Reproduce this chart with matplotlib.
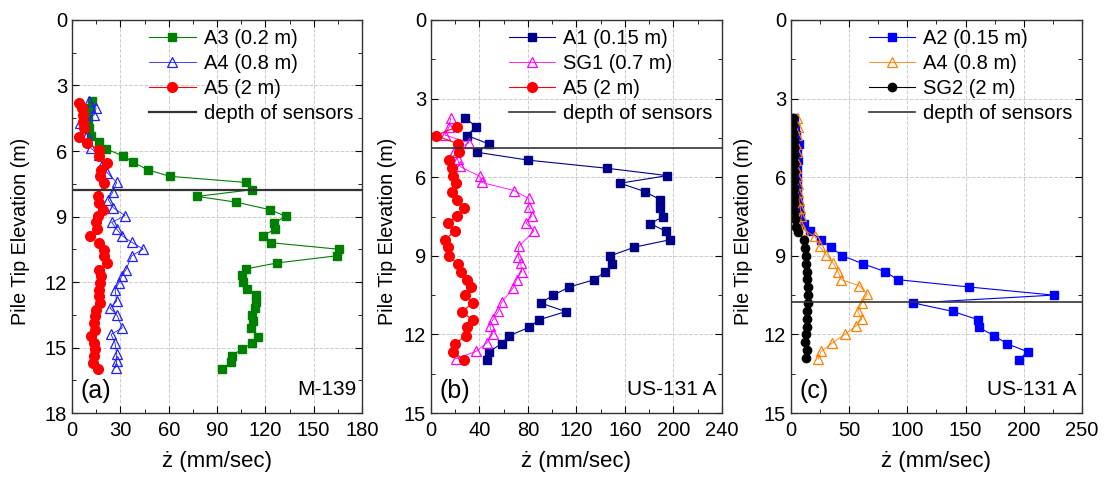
import matplotlib.pyplot as plt
from matplotlib.ticker import MultipleLocator

plt.rcParams['font.family'] = ['Liberation Sans', 'DejaVu Sans']

# ---- panel (a) M-139 ----
a_A3_z = [3.73, 4.04, 4.35, 4.65, 4.95, 5.3, 5.6, 5.9, 6.22, 6.52, 6.86, 7.16, 7.44, 7.77,
          8.08, 8.34, 8.69, 8.99, 9.3, 9.57, 9.9, 10.2, 10.5, 10.8, 11.13, 11.4, 11.7, 12.0,
          12.3, 12.6, 12.9, 13.2, 13.5, 13.8, 14.1, 14.5, 14.8, 15.06, 15.37, 15.67, 16.0]
a_A3_v = [12.2, 11, 10, 10, 10.5, 11.6, 17, 21, 31.4, 38, 47, 60.7, 108, 112,
          77.7, 101.6, 123, 132.6, 125.6, 126, 118.4, 123.5, 165.7, 164.3, 127, 108, 105.6, 106.4,
          108.5, 114, 114.5, 113.6, 111.6, 112.4, 111.4, 115.5, 111.8, 105.6, 99.4, 98.6, 93.2]

a_A4_z = [3.73, 4.04, 4.35, 4.7, 5.26, 5.87, 6.17, 6.55, 7.0, 7.44, 7.9, 8.23, 8.6, 8.96,
          9.27, 9.57, 9.88, 10.18, 10.49, 10.8, 11.43, 11.74, 12.04, 12.35, 12.88, 13.19,
          13.49, 14.1, 14.4, 14.79, 15.32, 15.63, 15.93]
a_A4_v = [10.7, 14.9, 13.8, 5, 9.5, 11.6, 16.7, 19, 21.9, 27.7, 25.2, 22.5, 25.6, 32.9,
          24.6, 27.7, 31, 37, 44.2, 37, 33.5, 30.8, 29.1, 26.7, 27.7, 23.5,
          27.7, 31.2, 24.2, 26.7, 27.7, 27.7, 27]

a_A5_z = [3.78, 4.04, 4.35, 4.65, 4.95, 5.34, 5.64, 5.95, 6.22, 6.55, 6.86, 7.16, 7.47,
          8.08, 8.38, 8.69, 8.99, 9.27, 9.57, 9.9, 10.21, 10.52, 10.82, 11.13, 11.43, 11.74,
          12.04, 12.35, 12.65, 12.96, 13.26, 13.57, 13.87, 14.18, 14.48, 14.79, 15.09, 15.4,
          15.7, 16.0]
a_A5_v = [4.5, 6, 7, 6.6, 7.4, 4.5, 9.5, 17, 16.7, 21.5, 17.8, 17.4, 19.8,
          16.3, 16.7, 19, 15.9, 14.9, 15.3, 11.2, 16.5, 19.8, 19.8, 21.5, 17, 17.8,
          17.4, 16.7, 17, 17.4, 14.7, 14.3, 13.8, 14.3, 12, 13.8, 14.3, 13.8,
          12.8, 15.9]
a_sensor = 7.77

# ---- panel (b) US-131 A ----
b_A1_z = [3.75, 4.07, 4.41, 4.73, 5.05, 5.35, 5.66, 5.94, 6.23, 6.55, 6.86, 7.16, 7.5, 7.77,
          8.07, 8.39, 8.67, 9.0, 9.3, 9.6, 9.91, 10.19, 10.5, 10.8, 11.13, 11.44, 11.73,
          12.05, 12.36, 12.66, 12.97]
b_A1_v = [28.5, 37.1, 29.7, 47.8, 38.2, 80.4, 145.5, 195, 156, 176.5, 189, 189.2, 191.7, 180.9,
          194, 196.9, 167.8, 148, 149.6, 143.9, 134.8, 114.2, 101, 90.6, 111.2, 89.2, 81,
          64.5, 58.2, 47.8, 45.9]

b_SG1_z = [3.75, 4.07, 4.39, 4.68, 5.02, 5.31, 5.59, 5.97, 6.2, 6.51, 6.81, 7.14, 7.47, 7.75,
           8.05, 8.64, 9.03, 9.28, 9.6, 9.91, 10.23, 10.78, 11.12, 11.41, 11.69, 11.99,
           12.33, 12.65, 12.93]
b_SG1_v = [16.2, 15, 11.5, 31.3, 19.2, 22, 23.9, 40.4, 41.7, 68.6, 80.7, 80.7, 83.4, 78.3,
           85.1, 72.5, 71.9, 74.1, 74.7, 70.6, 67.8, 58.2, 55.5, 51.4, 48.6, 50.8,
           45.9, 37.1, 20.3]

b_A5_z = [4.07, 4.41, 4.73, 5.02, 5.34, 5.63, 5.94, 6.23, 6.55, 6.86, 7.16, 7.47, 7.75, 8.05,
          8.39, 8.68, 9.0, 9.32, 9.6, 9.91, 10.19, 10.5, 10.8, 11.13, 11.44, 11.73, 12.05,
          12.36, 12.66, 12.97]
b_A5_v = [21.7, 4.1, 22.5, 23.3, 14.8, 17, 18.4, 20.6, 17, 21.7, 27.5, 21.7, 14.3, 19.8,
          11.5, 13.7, 14.8, 22.5, 24.4, 29.4, 32.7, 28, 34.9, 25.3, 34.3, 29.4, 28.8,
          19.8, 18, 27.5]
b_sensor = 4.87

# ---- panel (c) US-131 A ----
c_A2_z = [3.75, 4.07, 4.39, 4.73, 5.05, 5.34, 5.66, 5.95, 6.25, 6.55, 6.86, 7.16, 7.47, 7.77,
          8.07, 8.39, 8.68, 9.0, 9.3, 9.6, 9.91, 10.19, 10.5, 10.8, 11.12, 11.44, 11.73,
          12.05, 12.36, 12.66, 12.97]
c_A2_v = [3, 3.5, 4, 6.5, 5.5, 6, 5, 5, 5.5, 5, 6, 7, 8, 11,
          16, 25.8, 34.4, 44.2, 61.6, 80.6, 91.7, 153, 225.6, 105.2, 138.9, 160.8, 161.4,
          174.6, 185.8, 203.3, 195.8]

c_A4_z = [3.75, 4.07, 4.39, 4.73, 5.05, 5.34, 5.66, 5.95, 6.25, 6.55, 6.86, 7.16, 7.47, 7.77,
          8.0, 8.26, 8.64, 8.96, 9.28, 9.6, 9.91, 10.14, 10.46, 10.8, 11.12, 11.41, 11.69,
          11.99, 12.33, 12.65, 12.94]
c_A4_v = [5, 6, 5, 4, 5, 4, 4, 5, 6, 6, 7, 8, 9, 8,
          10.6, 20.6, 24.6, 30.3, 36.4, 40.4, 43, 58.8, 65.6, 60.8, 57.3, 60.8, 55.6,
          46.4, 35.5, 25.8, 23.5]

c_SG2_z = [3.75, 4.0, 4.3, 4.6, 4.9, 5.2, 5.5, 5.8, 6.1, 6.4, 6.7, 7.0, 7.3, 7.6, 7.9, 8.1,
           8.4, 8.7, 9.0, 9.3, 9.6, 9.9, 10.2, 10.5, 10.8, 11.1, 11.4, 11.7, 12.0, 12.3,
           12.6, 12.9]
c_SG2_v = [2, 2, 2, 2.5, 2.5, 2.5, 3, 3, 3, 2.5, 3, 3, 3, 3.5, 4.5, 6,
           11, 12, 12.5, 13, 13.5, 14, 14.5, 15, 14.5, 14, 13.5, 13.5, 13, 12,
           13.5, 13]
c_sensor = 10.77

fig = plt.figure(figsize=(11.05, 4.83), dpi=100)
ax_a = fig.add_axes([0.0652, 0.1449, 0.2624, 0.8137])
ax_b = fig.add_axes([0.3900, 0.1449, 0.2633, 0.8137])
ax_c = fig.add_axes([0.7158, 0.1449, 0.2633, 0.8137])

FS = 14.5


def style(ax, xmax, xmaj, ymax, tag, site, ylab_x):
    ax.set_xlim(0, xmax)
    ax.set_ylim(ymax, 0)
    ax.xaxis.set_major_locator(MultipleLocator(xmaj))
    ax.xaxis.set_minor_locator(MultipleLocator(xmaj / 2))
    ax.yaxis.set_major_locator(MultipleLocator(3))
    ax.yaxis.set_minor_locator(MultipleLocator(1.5))
    ax.tick_params(which='both', direction='in', top=True, right=True, labelsize=FS)
    ax.tick_params(which='major', length=5)
    ax.tick_params(which='minor', length=3)
    ax.tick_params(axis='x', pad=6)
    ax.grid(True, which='major', color='#cccccc', linestyle='--', linewidth=0.7)
    ax.set_xlabel("ż (mm/sec)", fontsize=16, labelpad=8)
    ax.set_ylabel("Pile Tip Elevation (m)", fontsize=14.2)
    ax.yaxis.set_label_coords(ylab_x, 0.463)
    for s in ax.spines.values():
        s.set_color('#333333')
        s.set_linewidth(1.0)
    ax.text(0.03, 0.025, tag, transform=ax.transAxes, fontsize=18, ha='left', va='bottom')
    ax.text(0.98, 0.035, site, transform=ax.transAxes, fontsize=15, ha='right', va='bottom')
    ax.legend(loc='upper right', frameon=False, fontsize=14.5, handlelength=2.3,
              labelspacing=0.3, borderaxespad=0.15, handletextpad=0.4, borderpad=0.3)


# (a)
ax_a.plot(a_A3_v, a_A3_z, color='#008000', marker='s', ms=5.5, lw=0.8, label='A3 (0.2 m)')
ax_a.plot(a_A4_v, a_A4_z, color='#2020ff', marker='^', ms=7, mfc='none', mew=0.9, lw=0.6,
          label='A4 (0.8 m)')
ax_a.plot(a_A5_v, a_A5_z, color='#ff0000', marker='o', ms=7, lw=0.8, label='A5 (2 m)')
ax_a.axhline(a_sensor, color='#333333', lw=1.6, label='depth of sensors')
style(ax_a, 180, 30, 18, '(a)', 'M-139', -0.145)

# (b)
ax_b.plot(b_A1_v, b_A1_z, color='#00008b', marker='s', ms=5.5, lw=0.8, label='A1 (0.15 m)')
ax_b.plot(b_SG1_v, b_SG1_z, color='#ff00ff', marker='^', ms=7, mfc='none', mew=0.9, lw=0.6,
          label='SG1 (0.7 m)')
ax_b.plot(b_A5_v, b_A5_z, color='#ff0000', marker='o', ms=7, lw=0.8, label='A5 (2 m)')
ax_b.axhline(b_sensor, color='#333333', lw=1.2, label='depth of sensors')
style(ax_b, 240, 40, 15, '(b)', 'US-131 A', -0.117)

# (c)
ax_c.plot(c_A2_v, c_A2_z, color='#0000ff', marker='s', ms=5.5, lw=0.8, label='A2 (0.15 m)')
ax_c.plot(c_A4_v, c_A4_z, color='#ff8000', marker='^', ms=7, mfc='none', mew=0.9, lw=0.6,
          label='A4 (0.8 m)')
ax_c.plot(c_SG2_v, c_SG2_z, color='black', marker='o', ms=6, lw=0.8, label='SG2 (2 m)')
ax_c.axhline(c_sensor, color='#333333', lw=1.2, label='depth of sensors')
style(ax_c, 250, 50, 15, '(c)', 'US-131 A', -0.13)

fig.savefig('out.png', dpi=100)
